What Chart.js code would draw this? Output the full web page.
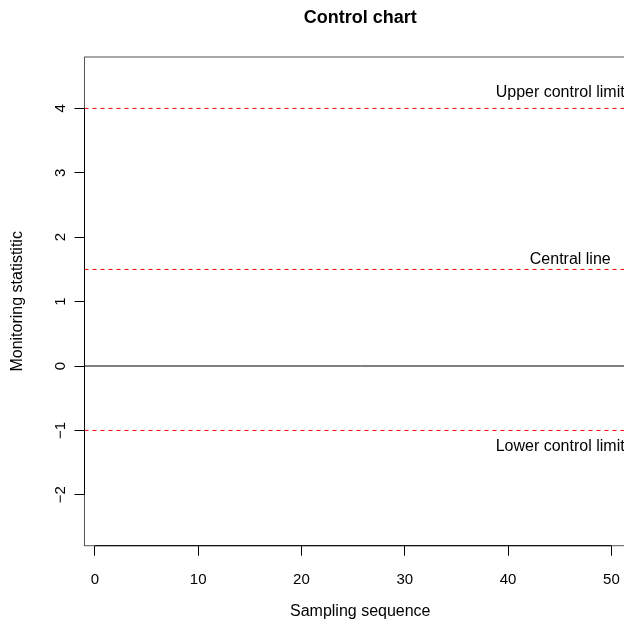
<!DOCTYPE html>
<html>
<head>
<meta charset="utf-8">
<script src="https://cdn.jsdelivr.net/npm/chart.js@4.4.0/dist/chart.umd.min.js"></script>
<style>
  html, body { margin: 0; padding: 0; background: #fff; overflow: hidden; }
  #wrap { width: 636px; height: 624px; }
</style>
</head>
<body>
<div id="wrap"><canvas id="chart" width="636" height="624"></canvas></div>
<script>
// data
const xTicks = [0, 10, 20, 30, 40, 50]
const yTicks = [-2, -1, 0, 1, 2, 3, 4]
const xRange = [-1.0, 52.38]
const yRange = [-2.79, 4.798]
const upperLimit = 4
const centralLine = 1.5
const lowerLimit = -1
const zeroLine = 0
const limitLabels = ["Upper control limit", "Central line", "Lower control limit"]

const fontFamily = "'Liberation Sans', Arial, Helvetica, sans-serif"
Chart.defaults.font.family = fontFamily
Chart.defaults.font.size = 15
Chart.defaults.color = "#000"

const hline = (y, color, dash) => ({
  data: [{ x: xRange[0], y: y }, { x: xRange[1], y: y }],
  borderColor: color,
  borderWidth: 1,
  borderDash: dash,
  pointRadius: 0,
  fill: false
})

// box + R-style axis lines (only between first and last tick)
const frame = {
  id: "frame",
  afterDatasetsDraw(chart) {
    const { ctx, chartArea: a, scales: { x, y } } = chart
    ctx.save()
    ctx.setLineDash([])
    ctx.strokeStyle = "#555"
    ctx.lineWidth = 1
    ctx.strokeRect(a.left, a.top, a.right - a.left, a.bottom - a.top)
    ctx.strokeStyle = "#000"
    ctx.beginPath()
    ctx.moveTo(a.left, y.getPixelForValue(yTicks[0]))
    ctx.lineTo(a.left, y.getPixelForValue(yTicks[yTicks.length - 1]))
    ctx.moveTo(x.getPixelForValue(xTicks[0]), a.bottom)
    ctx.lineTo(x.getPixelForValue(xTicks[xTicks.length - 1]), a.bottom)
    ctx.stroke()

    // limit labels
    ctx.fillStyle = "#000"
    ctx.font = "16px " + fontFamily
    ctx.textAlign = "left"
    ctx.textBaseline = "middle"
    ctx.fillText(limitLabels[0], x.getPixelForValue(38.8), y.getPixelForValue(4.25))
    ctx.fillText(limitLabels[1], x.getPixelForValue(42.1), y.getPixelForValue(1.66))
    ctx.fillText(limitLabels[2], x.getPixelForValue(38.8), y.getPixelForValue(-1.25))
    ctx.restore()
  }
}

new Chart(document.getElementById("chart"), {
  type: "line",
  data: {
    datasets: [
      hline(zeroLine, "#000000", []),
      hline(lowerLimit, "#ff0000", [4, 4]),
      hline(centralLine, "#ff0000", [4, 4]),
      hline(upperLimit, "#ff0000", [4, 4])
    ]
  },
  options: {
    responsive: false,
    animation: false,
    layout: { padding: 0 },
    plugins: {
      legend: { display: false },
      tooltip: { enabled: false },
      title: {
        display: true,
        text: "Control chart",
        fullSize: false,
        font: { size: 18, weight: "bold" },
        padding: { top: 7, bottom: 28.4 }
      }
    },
    scales: {
      x: {
        type: "linear",
        min: xRange[0],
        max: xRange[1],
        afterBuildTicks: s => { s.ticks = xTicks.map(v => ({ value: v })) },
        afterFit: s => { s.height = 78.3 },
        grid: { drawOnChartArea: false, color: "#000", tickLength: 10 },
        border: { display: false },
        ticks: { padding: 15, maxRotation: 0 },
        title: { display: true, text: "Sampling sequence", font: { size: 16 }, padding: { top: 0, bottom: 3 } }
      },
      y: {
        type: "linear",
        min: yRange[0],
        max: yRange[1],
        afterBuildTicks: s => { s.ticks = yTicks.map(v => ({ value: v })) },
        afterFit: s => { s.width = 84.5 },
        grid: { drawOnChartArea: false, color: "#000", tickLength: 10 },
        border: { display: false },
        ticks: {
          minRotation: 90,
          maxRotation: 90,
          crossAlign: "center",
          padding: 5,
          callback: v => String(v).replace("-", "\u2212")
        },
        title: { display: true, text: "Monitoring statistitic", font: { size: 16 }, padding: { top: 8, bottom: 0 } }
      }
    }
  },
  plugins: [frame]
})
</script>
</body>
</html>
